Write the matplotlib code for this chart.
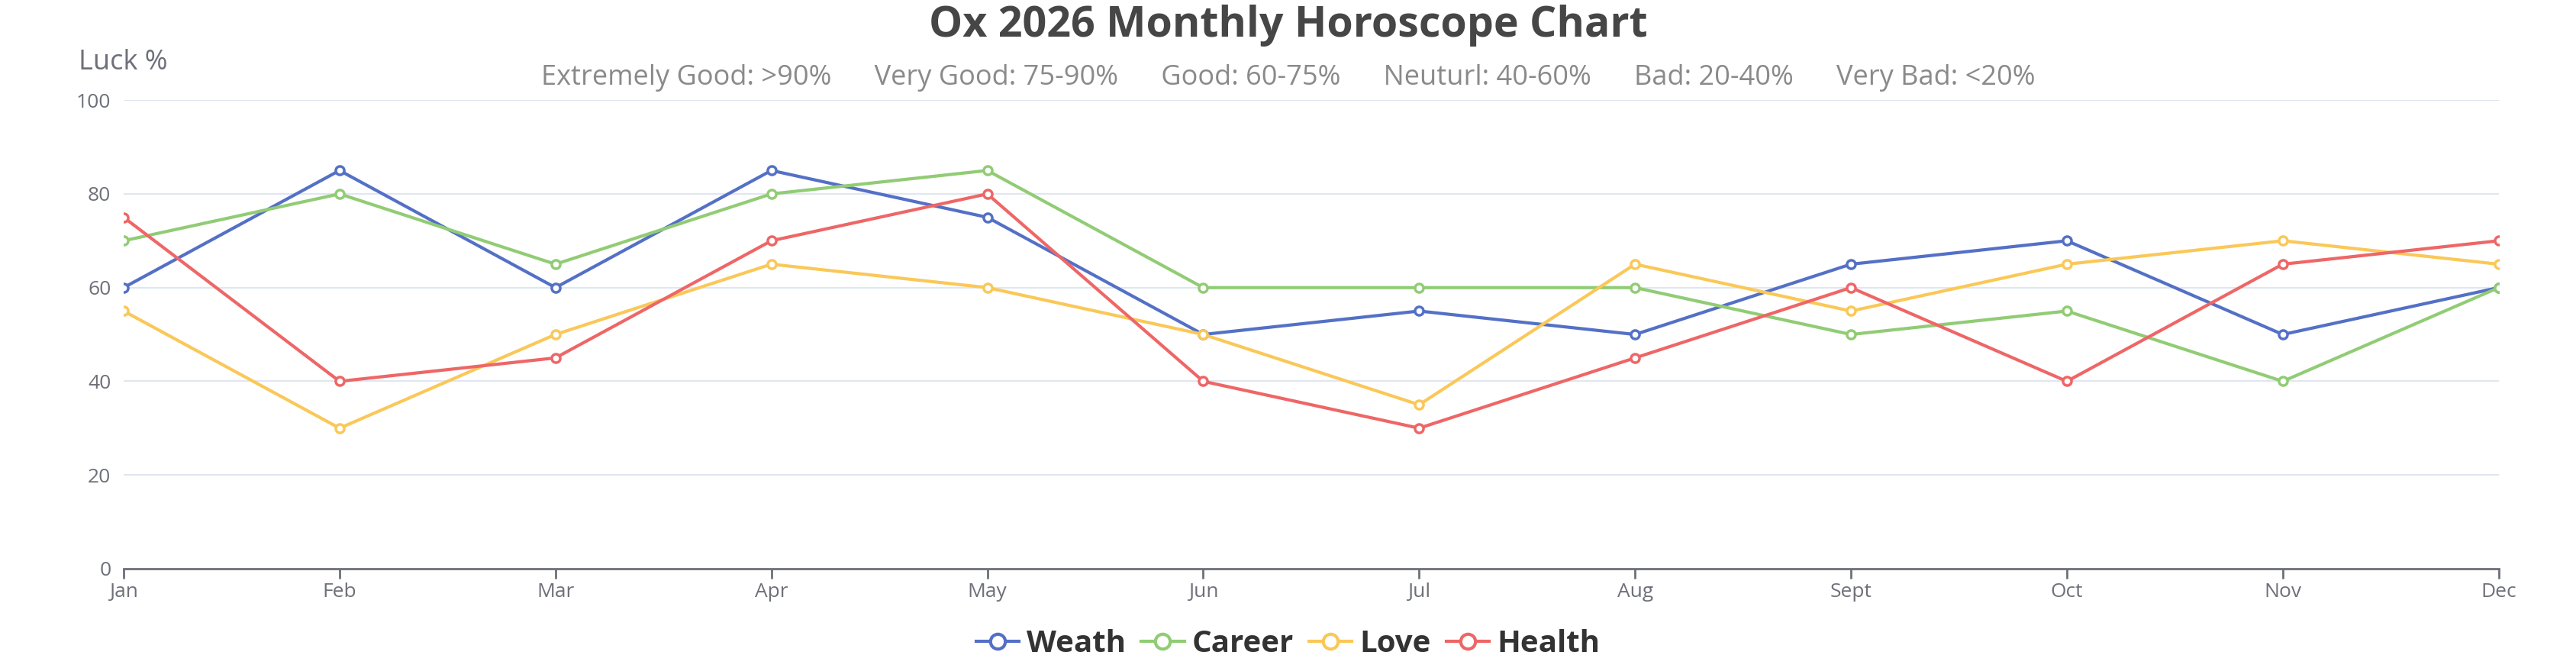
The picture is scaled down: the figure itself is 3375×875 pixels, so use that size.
import matplotlib
matplotlib.use("Agg")
import matplotlib.pyplot as plt
from matplotlib.lines import Line2D

months = ["Jan", "Feb", "Mar", "Apr", "May", "Jun", "Jul", "Aug", "Sept", "Oct", "Nov", "Dec"]
weath = [60, 85, 60, 85, 75, 50, 55, 50, 65, 70, 50, 60]
career = [70, 80, 65, 80, 85, 60, 60, 60, 50, 55, 40, 60]
love = [55, 30, 50, 65, 60, 50, 35, 65, 55, 65, 70, 65]
health = [75, 40, 45, 70, 80, 40, 30, 45, 60, 40, 65, 70]
series_names = ["Weath", "Career", "Love", "Health"]
colors = ["#5470c6", "#91cc75", "#fac858", "#ee6666"]
yticks = [0, 20, 40, 60, 80, 100]

plt.rcParams["font.family"] = ["Open Sans", "DejaVu Sans"]

fig = plt.figure(figsize=(33.75, 8.75), dpi=100)
ax = fig.add_axes([0.048, 0.1486, 0.922, 0.7014])

x = list(range(len(months)))
for name, vals, c in zip(series_names, [weath, career, love, health], colors):
    ax.plot(x, vals, color=c, lw=3, marker="o", ms=8, mfc="white", mec=c, mew=2.5,
            label=name, zorder=3)

ax.set_xlim(0, len(months) - 1)
ax.set_ylim(0, 100)
ax.set_xticks(x)
ax.set_xticklabels(months)
ax.set_yticks(yticks)
ax.grid(axis="y", color="#E0E6F1", lw=1.5)
ax.set_axisbelow(True)
for s in ["top", "right", "left"]:
    ax.spines[s].set_visible(False)
ax.spines["bottom"].set_color("#6E7079")
ax.spines["bottom"].set_linewidth(2)
ax.tick_params(axis="x", colors="#6E7079", length=9, width=2, labelsize=19, pad=4)
ax.tick_params(axis="y", colors="#6E7079", length=0, labelsize=19, pad=12)

fig.text(0.0305, 0.906, "Luck %", fontsize=26, color="#6E7079", ha="left", va="center")
fig.text(0.5, 0.962, "Ox 2026 Monthly Horoscope Chart", fontsize=40, fontweight="bold",
         color="#464646", ha="center", va="center")
fig.text(0.5, 0.884,
         "Extremely Good: >90%      Very Good: 75-90%      Good: 60-75%      Neuturl: 40-60%      Bad: 20-40%      Very Bad: <20%",
         fontsize=26, color="#8a8a8a", ha="center", va="center")

handles = [Line2D([0], [0], color=c, lw=3, marker="o", ms=14, mfc="white", mec=c, mew=3)
           for c in colors]
leg = fig.legend(handles, series_names, loc="center", bbox_to_anchor=(0.5, 0.036), ncol=4,
                 frameon=False, handlelength=1.4, handletextpad=0.25,
                 columnspacing=0.5, prop={"weight": "bold", "size": 29})
for t in leg.get_texts():
    t.set_color("#333333")

fig.savefig("out.png", dpi=100, facecolor="white")
